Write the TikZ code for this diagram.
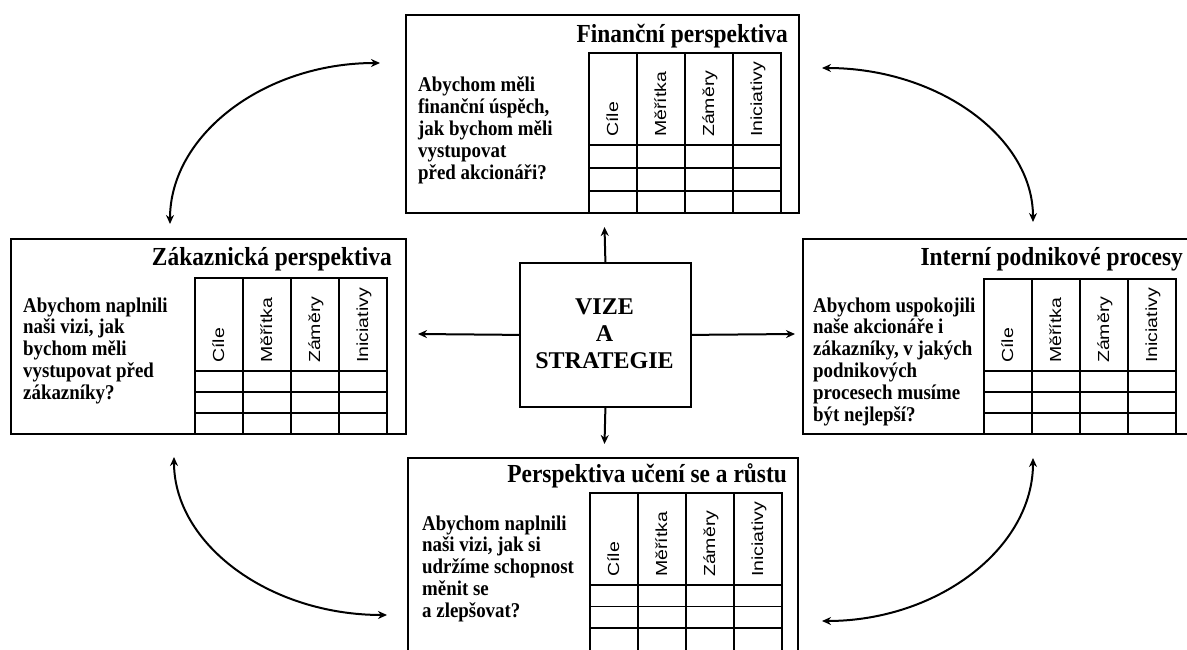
\documentclass[tikz,border=0pt]{standalone}
\usepackage{fontspec}
\setmainfont{Liberation Serif}
\newfontfamily\labelfont{Liberation Sans}
\usetikzlibrary{arrows.meta,calc}

% upright column heading, squeezed across its lines
\newcommand\narrowlabel[1]{\scalebox{1}[0.82]{#1}}

\tikzset{
  frame/.style={draw=black, line width=1.8pt, inner sep=0pt, anchor=north west},
  grid line/.style={line width=1.8pt, black},
  title/.style={anchor=base east, inner sep=0pt, xscale=0.9,
    font=\bfseries\fontsize{26}{28}\selectfont},
  question/.style={anchor=base west, inner sep=0pt, xscale=0.9,
    font=\bfseries\fontsize{21}{21.8}\selectfont},
  centre text/.style={anchor=base, inner sep=0pt, xscale=1,
    font=\bfseries\fontsize{24}{27}\selectfont},
  collabel/.style={rotate=90, anchor=west, inner sep=0pt,
    text height=14pt, text depth=4pt,
    font=\labelfont\fontsize{19.5}{20}\selectfont},
  link/.style={line width=2pt,
    {Stealth[length=9pt,width=8pt]}-{Stealth[length=9pt,width=8pt]}},
  spoke/.style={line width=2pt, -{Stealth[length=9pt,width=8pt]}},
}

% score table: #1 left x, #2 top y, #3 heading bottom y, #4 bottom y, #5 row pitch, #6 prefix
\newcommand\scoretable[6]{%
  \draw[grid line] (#1,#4) -- (#1,#2) -- (#1+192,#2) -- (#1+192,#4);
  \foreach \i in {1,2,3} \draw[grid line] (#1+48*\i,#2) -- (#1+48*\i,#4);
  \foreach \r in {0,1,2} \draw[grid line] (#1,#3+#5*\r) -- (#1+192,#3+#5*\r);
  \node[collabel] (#6-goals)   at (#1+24,#3-8)  {\narrowlabel{Cíle}};
  \node[collabel] (#6-measures) at (#1+72,#3-8) {\narrowlabel{Měřítka}};
  \node[collabel] (#6-targets) at (#1+120,#3-8) {\narrowlabel{Záměry}};
  \node[collabel] (#6-actions) at (#1+168,#3-8) {\narrowlabel{Iniciativy}};
}

\begin{document}
\begin{tikzpicture}[x=1pt,y=-1pt]
\useasboundingbox (0,0) rectangle (1187,650);
\clip (0,0) rectangle (1187,650);

% financial perspective
\node[frame, minimum width=393pt, minimum height=198pt] (fin) at (405,14) {};
\node[title] (fin-title) at (788,43) {Finanční perspektiva};
\node[question] (fin-q) at (418,92) {\begin{tabular}[t]{@{}l@{}}Abychom měli\\finanční úspěch,\\jak bychom měli\\vystupovat\\před akcionáři?\end{tabular}};
\scoretable{589}{53}{145}{212}{23}{fin}

% customer perspective
\node[frame, minimum width=395pt, minimum height=195pt] (cust) at (10,238) {};
\node[title] (cust-title) at (392,265) {Zákaznická perspektiva};
\node[question] (cust-q) at (23,312) {\begin{tabular}[t]{@{}l@{}}Abychom naplnili\\naši vizi, jak\\bychom měli\\vystupovat před\\zákazníky?\end{tabular}};
\scoretable{195}{278}{371}{433}{21}{cust}

% internal business processes
\node[frame, minimum width=400pt, minimum height=195pt] (proc) at (802,238) {};
\node[title] (proc-title) at (1183,265) {Interní podnikové procesy};
\node[question] (proc-q) at (813,312) {\begin{tabular}[t]{@{}l@{}}Abychom uspokojili\\naše akcionáře i\\zákazníky, v jakých\\podnikových\\procesech musíme\\být nejlepší?\end{tabular}};
\scoretable{984}{279}{371}{433}{21}{proc}

% learning and growth
\node[frame, minimum width=390pt, minimum height=220pt] (learn) at (407,457) {};
\node[title] (learn-title) at (787,482) {Perspektiva učení se a růstu};
\node[question] (learn-q) at (422,530) {\begin{tabular}[t]{@{}l@{}}Abychom naplnili\\naši vizi, jak si\\udržíme schopnost\\měnit se\\a zlepšovat?\end{tabular}};
\scoretable{590}{493}{585}{680}{21.5}{learn}

% vision and strategy in the middle
\node[frame, minimum width=171pt, minimum height=144pt] (vision) at (519,262) {};
\node[centre text] (vision-text) at (604.5,314) {\begin{tabular}[t]{@{}c@{}}VIZE\\A\\STRATEGIE\end{tabular}};

% spokes from the centre
\coordinate (up tip) at (604.5,227);
\coordinate (down tip) at (604.5,444);
\coordinate (left tip) at (418,334);
\coordinate (right tip) at (795,334);
\draw[spoke] (vision.north) -- (up tip);
\draw[spoke] (vision.south) -- (down tip);
\draw[spoke] (vision.west) -- (left tip);
\draw[spoke] (vision.east) -- (right tip);

% curved links between neighbouring perspectives
\coordinate (nw a) at (170,224);
\coordinate (nw b) at (380,63);
\coordinate (ne a) at (822,68);
\coordinate (ne b) at (1033,222);
\coordinate (sw a) at (174,457);
\coordinate (sw b) at (387,615);
\coordinate (se a) at (1033,458);
\coordinate (se b) at (822,621);
\draw[link] (nw a) .. controls ($(nw a)+(0,-89)$) and ($(nw b)+(-116,0)$) .. (nw b);
\draw[link] (ne a) .. controls ($(ne a)+(116,0)$) and ($(ne b)+(0,-85)$) .. (ne b);
\draw[link] (sw a) .. controls ($(sw a)+(0,87)$) and ($(sw b)+(-118,0)$) .. (sw b);
\draw[link] (se a) .. controls ($(se a)+(0,90)$) and ($(se b)+(116,0)$) .. (se b);
\end{tikzpicture}
\end{document}
